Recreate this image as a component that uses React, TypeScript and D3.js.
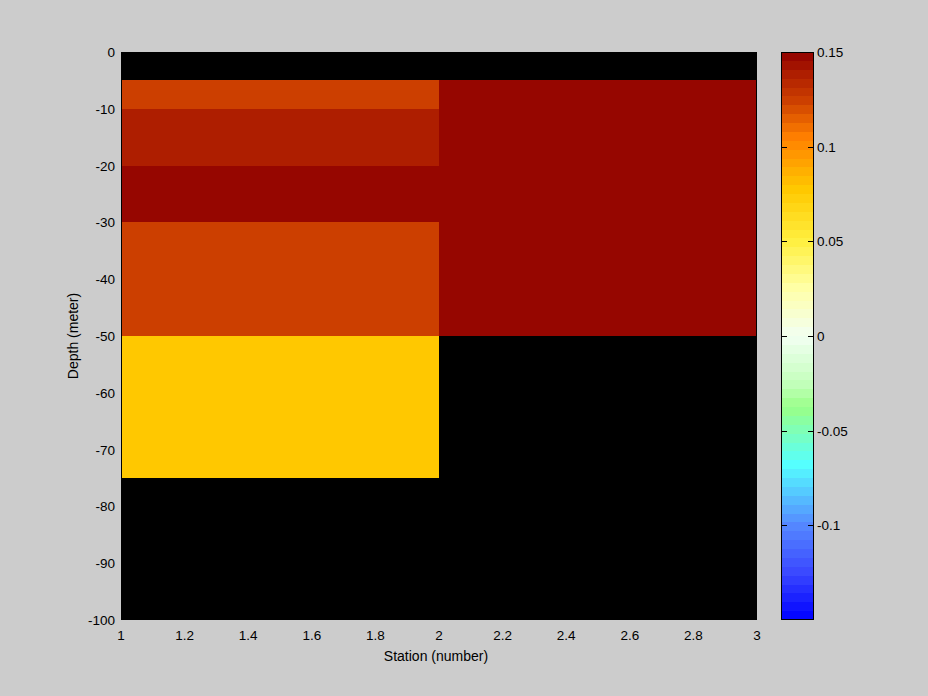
import React from "react";
import * as d3 from "d3";

const stationEdges = [1, 2, 3];
const depthEdges = [0, -5, -10, -20, -30, -50, -75, -100];
// value per depth band (rows) and station interval (columns); null = no data
const station1Values: (number | null)[] = [null, 0.124, 0.136, 0.147, 0.124, 0.076, null];
const station2Values: (number | null)[] = [null, 0.147, 0.147, 0.147, 0.147, null, null];

const xTicks = [1, 1.2, 1.4, 1.6, 1.8, 2, 2.2, 2.4, 2.6, 2.8, 3];
const yTicks = [0, -10, -20, -30, -40, -50, -60, -70, -80, -90, -100];
const cbTicks = [0.15, 0.1, 0.05, 0, -0.05, -0.1];
const cbDomain = [-0.15, 0.15];
const nLevels = 64;

const cmapStops: [number, string][] = [
  [-0.15, "#0000FF"],
  [-0.125, "#3A48FF"],
  [-0.1, "#5588FF"],
  [-0.068, "#55FFFF"],
  [-0.038, "#99FF88"],
  [-0.025, "#C4FFBC"],
  [0, "#F2FFF2"],
  [0.025, "#FFFFA8"],
  [0.05, "#FFF040"],
  [0.0773, "#FFC800"],
  [0.105, "#FF8000"],
  [0.1242, "#CC3F00"],
  [0.1383, "#AE1E00"],
  [0.15, "#900000"],
];

const W = 928;
const H = 696;
const FONT = "'Liberation Sans', Arial, sans-serif";

export default function App() {
  const x = d3.scaleLinear().domain([1, 3]).range([121, 757]);
  const y = d3.scaleLinear().domain([0, -100]).range([52, 620]);

  const stopScale = d3
    .scaleLinear<string>()
    .domain(cmapStops.map((s) => s[0]))
    .range(cmapStops.map((s) => s[1]))
    .interpolate(d3.interpolateRgb)
    .clamp(true);
  const step = (cbDomain[1] - cbDomain[0]) / nLevels;
  const levelColors = d3.range(nLevels).map((i) => stopScale(cbDomain[0] + (i + 0.5) * step));
  const color = d3.scaleQuantize<string>().domain(cbDomain).range(levelColors);

  const cbY = d3.scaleLinear().domain(cbDomain).range([620, 52]);

  const columns = [station1Values, station2Values];

  return (
    <svg
      width={W}
      height={H}
      style={{ position: "absolute", left: 0, top: 0, display: "block" }}
      fontFamily={FONT}
    >
      <rect x={0} y={0} width={W} height={H} fill="#cccccc" />
      {/* plot background (no data) */}
      <rect x={121} y={52} width={636} height={568} fill="#000" shapeRendering="crispEdges" />
      {columns.map((col, ci) =>
        col.map((v, ri) =>
          v === null ? null : (
            <rect
              key={`c${ci}-${ri}`}
              x={x(stationEdges[ci])}
              y={y(depthEdges[ri])}
              width={x(stationEdges[ci + 1]) - x(stationEdges[ci])}
              height={y(depthEdges[ri + 1]) - y(depthEdges[ri])}
              fill={color(v)}
              shapeRendering="crispEdges"
            />
          )
        )
      )}
      <rect x={121.5} y={52.5} width={635} height={567} fill="none" stroke="#000" strokeWidth={1} shapeRendering="crispEdges" />

      {yTicks.map((t) => (
        <text key={`y${t}`} x={115} y={y(t) + 5} textAnchor="end" fontSize={13.5} fill="#000">
          {t}
        </text>
      ))}
      {xTicks.map((t) => (
        <text key={`x${t}`} x={x(t)} y={640} textAnchor="middle" fontSize={13.5} fill="#000">
          {t}
        </text>
      ))}
      <text x={436} y={661} textAnchor="middle" fontSize={14} fill="#000">
        Station (number)
      </text>
      <text
        transform={`translate(78,336) rotate(-90)`}
        textAnchor="middle"
        fontSize={14}
        fill="#000"
      >
        Depth (meter)
      </text>

      {/* colorbar */}
      {levelColors.map((c, i) => {
        const v0 = cbDomain[0] + i * step;
        const v1 = v0 + step;
        return (
          <rect
            key={`cb${i}`}
            x={782}
            y={cbY(v1)}
            width={31}
            height={cbY(v0) - cbY(v1)}
            fill={c}
            shapeRendering="crispEdges"
          />
        );
      })}
      <rect x={781.5} y={52.5} width={32} height={567} fill="none" stroke="#000" strokeWidth={1} shapeRendering="crispEdges" />
      {cbTicks.map((t) => (
        <g key={`cbt${t}`}>
          <line x1={782} x2={787} y1={Math.round(cbY(t)) + 0.5} y2={Math.round(cbY(t)) + 0.5} stroke="#000" />
          <line x1={808} x2={813} y1={Math.round(cbY(t)) + 0.5} y2={Math.round(cbY(t)) + 0.5} stroke="#000" />
          <text x={817} y={cbY(t) + 5} fontSize={13.5} fill="#000">
            {t}
          </text>
        </g>
      ))}
    </svg>
  );
}
